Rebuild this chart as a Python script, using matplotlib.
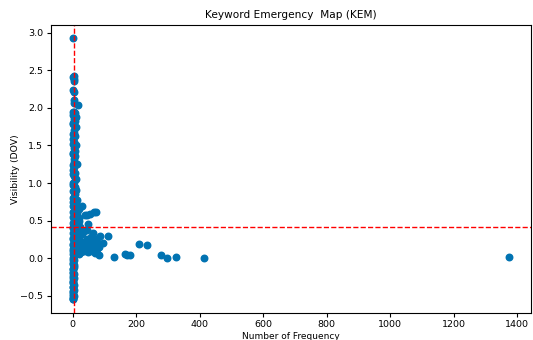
import matplotlib
matplotlib.use("Agg")
import matplotlib.pyplot as plt

# Dense column of keywords with very small frequency
col_x = [2, 3, 2, 4, 3, 2, 3, 3, 16, 5, 4, 8, 2, 10, 3, 6, 2, 9, 4, 3, 7, 2, 5, 10, 3, 6, 2, 8, 4, 3,
         12, 5, 2, 7, 3, 9, 4, 2, 6, 11, 3, 8, 5, 14, 2, 10, 6, 18, 3, 12, 7, 20, 4, 15, 9, 2, 13, 6, 3, 10,
         1, 5, 8, 2, 4, 6, 1, 3, 5, 2, 4, 1, 3, 5, 2, 0, 3, 1, 4, 2, 0, 3, 1, 4, 2, 0, 3, 1, 2]
col_y = [2.93, 2.43, 2.41, 2.39, 2.36, 2.24, 2.21, 2.10, 2.04, 2.07, 1.95, 1.93, 1.91, 1.88, 1.85, 1.82,
         1.78, 1.74, 1.70, 1.66, 1.62, 1.58, 1.54, 1.50, 1.47, 1.43, 1.40, 1.36, 1.32, 1.28, 1.25, 1.21,
         1.18, 1.14, 1.10, 1.06, 1.02, 0.98, 0.95, 0.91, 0.88, 0.85, 0.81, 0.78, 0.75, 0.72, 0.69, 0.66,
         0.63, 0.60, 0.57, 0.54, 0.51, 0.48, 0.45, 0.42, 0.39, 0.36, 0.33, 0.30, 0.27, 0.24, 0.21, 0.18,
         0.15, 0.12, 0.09, 0.06, 0.03, 0.00, -0.03, -0.06, -0.09, -0.12, -0.15, -0.18, -0.21, -0.24, -0.27,
         -0.30, -0.33, -0.36, -0.39, -0.42, -0.45, -0.48, -0.51, -0.53, -0.55]

# Zero-frequency keywords
zero_y = [1.95, 1.80, 1.65, 1.52, 1.38, 1.24, 1.12, 1.00, 0.90, 0.80, 0.70, 0.62, 0.55, 0.47, 0.40,
          0.33, 0.26, 0.19, 0.12, 0.05, -0.02, -0.08, -0.14, -0.20, -0.26, -0.32, -0.38, -0.44, -0.50, -0.54]

# Cloud of keywords with moderate frequency
cloud_x = [12, 15, 18, 22, 25, 14, 28, 33, 35, 38, 42, 45, 48, 50, 55, 58, 60, 62, 65,
           68, 70, 72, 75, 78, 82, 85, 18, 26, 24, 16, 20, 12, 36, 44,
           30, 44, 53, 68, 72, 47, 38]
cloud_y = [0.35, 0.30, 0.25, 0.20, 0.15, 0.12, 0.32, 0.22, 0.10, 0.18, 0.13, 0.25,
           0.08, 0.20, 0.15, 0.28, 0.10, 0.22, 0.33, 0.18, 0.07, 0.26, 0.12, 0.20, 0.15,
           0.30, 0.06, 0.08, 0.42, 0.45, 0.50, 0.55, 0.36, 0.38,
           0.70, 0.58, 0.59, 0.62, 0.61, 0.46, 0.57]

# High-frequency keywords
far_x = [96, 111, 81, 130, 164, 171, 180, 207, 235, 279, 297, 324, 413, 1375]
far_y = [0.20, 0.30, 0.04, 0.02, 0.057, 0.048, 0.039, 0.185, 0.17, 0.04, -0.005, 0.02, 0.008, 0.01]

mean_x = 4
mean_y = 0.42

xs = col_x + [0] * len(zero_y) + cloud_x + far_x
ys = col_y + zero_y + cloud_y + far_y

fig = plt.figure(figsize=(5.33, 3.40), dpi=100)
ax = fig.add_axes([51 / 533, 1 - 312.5 / 340, 480 / 533, 287.5 / 340])
ax.scatter(xs, ys, s=22, color="#0173b2")
ax.axhline(mean_y, color="red", linestyle="--", linewidth=1)
ax.axvline(mean_x, color="red", linestyle="--", linewidth=1)
ax.set_title("Keyword Emergency  Map (KEM)", fontsize=7.6, pad=5)
ax.set_xlabel("Number of Frequency", fontsize=6.5, labelpad=2)
ax.set_ylabel("Visibility (DOV)", fontsize=6.7, labelpad=0)
ax.tick_params(labelsize=6.8, pad=2.5, length=3)
ax.set_ylim(-0.724, 3.104)
fig.savefig("out.png", dpi=100)
